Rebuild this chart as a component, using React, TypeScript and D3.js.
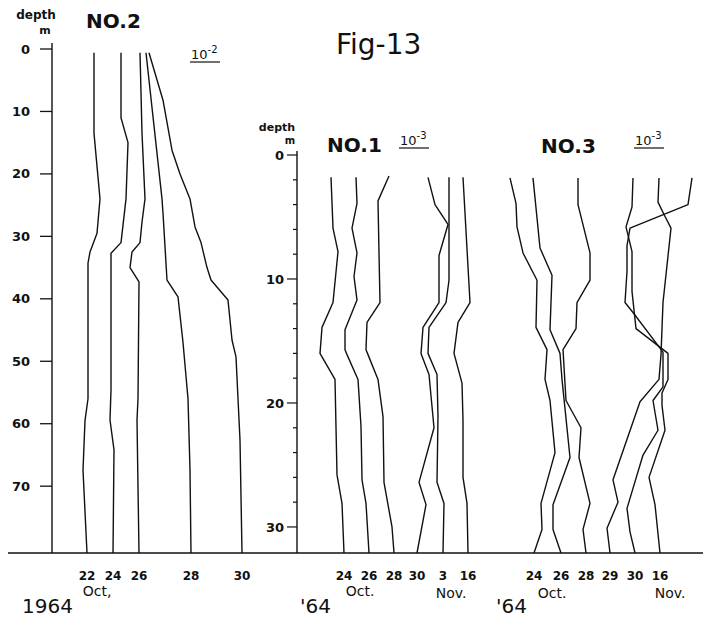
import * as d3 from "d3";

const W = 705;
const H = 619;
const FONT = "'DejaVu Sans', sans-serif";

// profiles: [x reading, depth m]; last point sits on the baseline
const NO2_LINES: [number, number][][] = [
  [[21, 0.6], [21, 13.5], [24, 24], [22.5, 29.5], [19, 32.5], [18, 34.3], [18, 56], [16.5, 59.5], [15.5, 67.4], [17.5, 80.7]],
  [[34.5, 0.6], [34.5, 11], [38, 15], [37, 24], [34.5, 31], [29.5, 32.7], [29.5, 54.6], [29, 59.4], [31, 64.2], [30.5, 80.7]],
  [[44, 0.6], [45, 13.5], [46.5, 24], [45, 27.7], [44, 31], [40, 32.5], [39, 35], [43.5, 37.3], [43, 56], [42.5, 59.4], [43.5, 80.7]],
  [[47, 0.6], [55, 24], [55.5, 26.3], [57.5, 37], [63, 39.7], [65.5, 47], [68, 56], [69, 67.4], [69.5, 80.7]],
  [[48.5, 0.6], [55.5, 8.2], [60, 16.2], [64, 20], [69, 24], [71.5, 28.5], [74.5, 31], [77.5, 35], [79.5, 37], [88, 40.2], [90, 46.6], [92, 49.3], [93, 56], [94, 62.6], [95, 80.7]],
];
const NO2_DATES = ["22", "24", "26", "28", "30"];

const NO1_LINES: [number, number][][] = [
  [[17, 1.8], [18, 5.9], [20.5, 7.8], [18, 11.9], [12.5, 13.9], [11.5, 16], [19, 18.1], [20, 25.8], [22.5, 28.1], [23.5, 32.1]],
  [[29.5, 1.8], [30, 3.9], [27.5, 5.9], [30, 7.9], [28.5, 9.8], [30, 11.7], [24, 14.1], [24, 15.7], [25, 16.1], [30.5, 18.1], [32, 21.9], [32.5, 26.2], [34.5, 28.1], [36, 32.1]],
  [[46, 1.7], [40.5, 3.7], [41, 7.9], [41.5, 11.9], [35, 13.5], [34.5, 15.7], [35.5, 16.1], [40.5, 18.1], [43, 21.1], [43.5, 26.4], [47.5, 30], [48.5, 32.1]],
  [[65.5, 1.8], [69, 4], [75.5, 5.6], [71, 8.1], [71, 11.9], [63, 13.9], [62, 16], [66, 17.7], [68.5, 22], [61, 26.4], [64.5, 28.2], [60, 32.1]],
  [[76, 1.8], [76, 10.1], [74.5, 11.9], [66, 13.9], [65.5, 16], [70, 17.7], [70.5, 21.1], [70, 26.4], [73.5, 28.1], [73, 32.1]],
  [[83, 1.8], [86.5, 11.9], [80.5, 13.5], [78.5, 16], [82.5, 18.4], [83, 21.4], [83, 26], [85, 28.1], [85.5, 32.1]],
];
const NO1_DATES = ["24", "26", "28", "30", "3", "16"];

const NO3_LINES: [number, number][][] = [
  [[106.5, 1.85], [109.5, 3.9], [110, 5.8], [113, 7.9], [120, 10.1], [119.5, 13.9], [125, 15.7], [124, 18.1], [126.5, 19.8], [129, 24], [122, 28.1], [122.5, 30.2], [118.5, 32.1]],
  [[118, 1.85], [121.5, 7.5], [127.5, 9.7], [126.5, 14.1], [131.5, 16], [132.5, 18.1], [136.5, 24.4], [128, 28.2], [128, 30.2], [132, 32.1]],
  [[140.5, 1.85], [140.5, 4], [146.5, 7.9], [146.5, 10.1], [140, 11.9], [139.5, 14], [133, 15.7], [134.5, 19.8], [142, 22], [141, 24.4], [146.5, 28.1], [143, 30.2], [144.5, 32.1]],
  [[181, 1.85], [180.5, 3.8], [183.5, 4.8], [187, 5.9], [183, 11.9], [182, 16.1], [181, 18.1], [171.5, 19.9], [158, 26.2], [160.5, 28], [155, 30.1], [156.5, 32.1]],
  [[197.5, 1.85], [195.5, 4], [166.5, 5.9], [165, 7.3], [165, 9.4], [164, 11.9], [168, 12.7], [183, 15.9], [183, 18.7], [178, 19.8], [180.5, 22.2], [173, 24.2], [165, 28.5], [166.5, 30.4], [169, 32.1]],
  [[168, 1.85], [167.5, 4.2], [164.5, 5.8], [167.5, 7.8], [167.5, 11], [169.5, 14], [185.5, 16], [185.5, 18.1], [182.5, 19.2], [182.5, 20.2], [184, 22.2], [176, 26], [179, 28.2], [181.5, 32.1]],
];
const NO3_DATES = ["24", "26", "28", "29", "30", "16"];

const DEPTH_TICKS_A = [0, 10, 20, 30, 40, 50, 60, 70];
const DEPTH_TICKS_B = [0, 10, 20, 30];

const BASE_Y = 553;

const yA = d3.scaleLinear().domain([0, 80.7]).range([49, BASE_Y]);
const xA = d3.scaleLinear().domain([0, 100]).range([52, 252]);
const yB = d3.scaleLinear().domain([0, 32.1]).range([155, BASE_Y]);
const xB = d3.scaleLinear().domain([0, 200]).range([297, 697]);

function Profiles({ lines, x, y }: { lines: [number, number][][]; x: any; y: any }) {
  const gen = d3
    .line<[number, number]>()
    .x((d) => x(d[0]))
    .y((d) => y(d[1]));
  return (
    <g fill="none" stroke="#111" strokeWidth={1.4} strokeLinejoin="round">
      {lines.map((pts, i) => (
        <path key={i} d={gen(pts) || ""} />
      ))}
    </g>
  );
}

function DateLabels({ lines, dates, x }: { lines: [number, number][][]; dates: string[]; x: any }) {
  return (
    <g fontFamily={FONT} fontSize={12} fontWeight="bold" textAnchor="middle" fill="#111">
      {lines.map((pts, i) => (
        <text key={i} x={x(pts[pts.length - 1][0])} y={580}>
          {dates[i]}
        </text>
      ))}
    </g>
  );
}

// "10^-n" unit marker, underlined
function Scale({ x, y, exp }: { x: number; y: number; exp: string }) {
  return (
    <g fontFamily={FONT} fill="#111">
      <text x={x} y={y} fontSize={13}>
        10
        <tspan dy={-6} fontSize={10}>
          {exp}
        </tspan>
      </text>
      <line x1={x - 1} x2={x + 29} y1={y + 3} y2={y + 3} stroke="#111" strokeWidth={1.2} />
    </g>
  );
}

export default function App() {
  return (
    <div style={{ position: "fixed", left: 0, top: 0, background: "#fff" }}>
      <svg width={W} height={H} style={{ display: "block" }}>
        <rect width={W} height={H} fill="#fff" />

        {/* title */}
        <text x={336} y={54} fontFamily={FONT} fontSize={28} fill="#111">
          Fig-13
        </text>

        {/* ── NO.2 panel ── */}
        <text x={36} y={19} textAnchor="middle" fontFamily={FONT} fontSize={12} fontWeight="bold" fill="#111">
          depth
        </text>
        <text x={45} y={34} textAnchor="middle" fontFamily={FONT} fontSize={11} fontWeight="bold" fill="#111">
          m
        </text>
        <text x={86} y={28} fontFamily={FONT} fontSize={20} fontWeight="bold" fill="#111">
          NO.2
        </text>
        <Scale x={191} y={59} exp="-2" />

        <line x1={xA(0)} x2={xA(0)} y1={43} y2={BASE_Y} stroke="#111" strokeWidth={1.4} />
        {DEPTH_TICKS_A.map((t) => (
          <g key={t}>
            <line x1={xA(0) - 12} x2={xA(0)} y1={yA(t)} y2={yA(t)} stroke="#111" strokeWidth={1.3} />
            <text
              x={30}
              y={yA(t)}
              dy="0.35em"
              textAnchor="end"
              fontFamily={FONT}
              fontSize={13}
              fontWeight="bold"
              fill="#111">
              {t}
            </text>
          </g>
        ))}
        <Profiles lines={NO2_LINES} x={xA} y={yA} />
        <DateLabels lines={NO2_LINES} dates={NO2_DATES} x={xA} />
        <text x={97} y={596} textAnchor="middle" fontFamily={FONT} fontSize={14} fill="#111">
          Oct,
        </text>
        <text x={22} y={613} fontFamily={FONT} fontSize={20} fill="#111">
          1964
        </text>

        {/* ── NO.1 / NO.3 panel ── */}
        <text x={277} y={131} textAnchor="middle" fontFamily={FONT} fontSize={11} fontWeight="bold" fill="#111">
          depth
        </text>
        <text x={290} y={144} textAnchor="middle" fontFamily={FONT} fontSize={10} fontWeight="bold" fill="#111">
          m
        </text>
        <text x={327} y={152} fontFamily={FONT} fontSize={20} fontWeight="bold" fill="#111">
          NO.1
        </text>
        <Scale x={400} y={145} exp="-3" />
        <text x={541} y={153} fontFamily={FONT} fontSize={20} fontWeight="bold" fill="#111">
          NO.3
        </text>
        <Scale x={635} y={145} exp="-3" />

        <line x1={xB(0)} x2={xB(0)} y1={151} y2={BASE_Y} stroke="#111" strokeWidth={1.4} />
        {d3.range(0, 32, 2).map((t) => {
          const major = DEPTH_TICKS_B.includes(t);
          return (
            <line
              key={t}
              x1={xB(0) - (major ? 10 : 4)}
              x2={xB(0)}
              y1={yB(t)}
              y2={yB(t)}
              stroke="#111"
              strokeWidth={1.2}
            />
          );
        })}
        {DEPTH_TICKS_B.map((t) => (
          <text
            key={t}
            x={284}
            y={yB(t)}
            dy="0.35em"
            textAnchor="end"
            fontFamily={FONT}
            fontSize={13}
            fontWeight="bold"
            fill="#111">
            {t}
          </text>
        ))}
        <Profiles lines={NO1_LINES} x={xB} y={yB} />
        <Profiles lines={NO3_LINES} x={xB} y={yB} />
        <DateLabels lines={NO1_LINES} dates={NO1_DATES} x={xB} />
        <DateLabels lines={NO3_LINES} dates={NO3_DATES} x={xB} />

        <g fontFamily={FONT} fontSize={14} fill="#111" textAnchor="middle">
          <text x={360} y={596}>Oct.</text>
          <text x={451} y={598}>Nov.</text>
          <text x={552} y={598}>Oct.</text>
          <text x={670} y={598}>Nov.</text>
        </g>
        <g fontFamily={FONT} fontSize={20} fill="#111">
          <text x={300} y={613}>'64</text>
          <text x={496} y={613}>'64</text>
        </g>

        {/* baseline */}
        <line x1={8} x2={703} y1={BASE_Y} y2={BASE_Y} stroke="#111" strokeWidth={1.6} />
      </svg>
    </div>
  );
}
